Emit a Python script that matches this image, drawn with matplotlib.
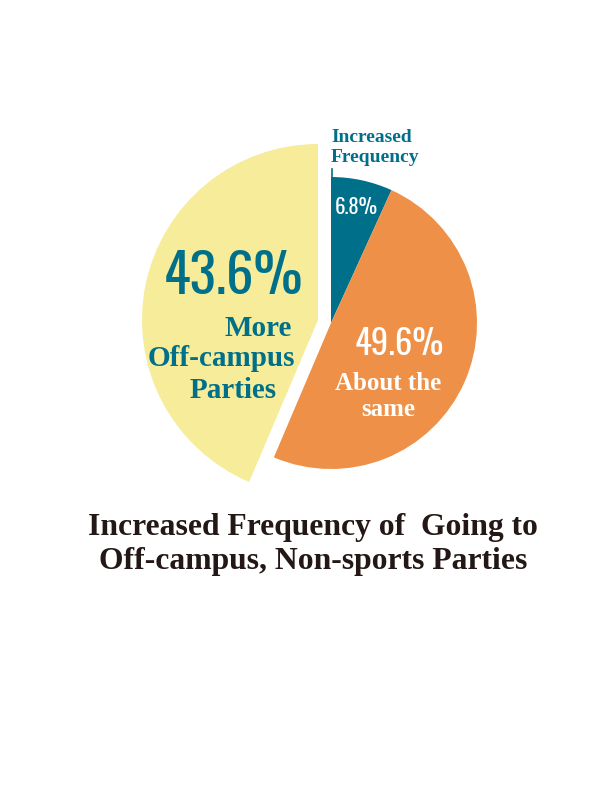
import matplotlib
matplotlib.use("Agg")
import matplotlib.pyplot as plt

# Data
labels = ["Increased\nFrequency", "About the\nsame", "More\nOff-campus\nParties"]
values = [6.8, 49.6, 43.6]
colors = ["#00708A", "#EE9047", "#F6EC9A"]
title = "Increased Frequency of  Going to\nOff-campus, Non-sports Parties"

TEAL = "#00708A"
DARK = "#231815"
SERIF = ["Liberation Serif", "DejaVu Serif"]
NARROW = ["Oswald", "Roboto Condensed", "DejaVu Sans"]

fig = plt.figure(figsize=(6.12, 7.92), dpi=100)
ax = fig.add_axes([0, 0, 1, 1])

# page coordinates: x 0..612, y 0..792 (y up)
cx, cy, r = 331, 792 - 323, 146
wedges, _ = ax.pie(values, colors=colors, startangle=90, counterclock=False,
                   radius=r, center=(cx, cy),
                   wedgeprops=dict(linewidth=0))
# the "more parties" slice is pulled out and drawn larger
wedges[2].set_center((318, 792 - 320))
wedges[2].set_radius(176)

ax.set_xlim(0, 612)
ax.set_ylim(0, 792)
ax.set_aspect("equal")
ax.axis("off")

# leader for the small slice
ax.plot([332, 332], [792 - 169, 792 - 180], color=TEAL, lw=1.2)
ax.text(331, 792 - 138, "Increased", ha="left", va="center", color=TEAL,
        family=SERIF, fontweight="bold", fontsize=14)
ax.text(331, 792 - 158, "Frequency", ha="left", va="center", color=TEAL,
        family=SERIF, fontweight="bold", fontsize=14)
ax.text(356, 792 - 207, f"{values[0]}%", ha="center", va="center", color="white",
        family=NARROW, fontsize=15)

# big yellow slice
ax.text(234, 792 - 277, f"{values[2]}%", ha="center", va="center", color=TEAL,
        family=NARROW, fontweight="medium", fontsize=39.5)
ax.text(292, 792 - 328, "More", ha="right", va="center", color=TEAL,
        family=SERIF, fontweight="bold", fontsize=21)
ax.text(221, 792 - 359, "Off-campus", ha="center", va="center", color=TEAL,
        family=SERIF, fontweight="bold", fontsize=21)
ax.text(233, 792 - 391, "Parties", ha="center", va="center", color=TEAL,
        family=SERIF, fontweight="bold", fontsize=21)

# orange slice
ax.text(399, 792 - 344, f"{values[1]}%", ha="center", va="center", color="white",
        family=NARROW, fontsize=25)
ax.text(388, 792 - 383, "About the", ha="center", va="center", color="white",
        family=SERIF, fontweight="bold", fontsize=18)
ax.text(388, 792 - 410, "same", ha="center", va="center", color="white",
        family=SERIF, fontweight="bold", fontsize=18)

# title
ax.text(313, 792 - 527, title.split("\n")[0], ha="center", va="center", color=DARK,
        family=SERIF, fontweight="bold", fontsize=22.8)
ax.text(313, 792 - 562, title.split("\n")[1], ha="center", va="center", color=DARK,
        family=SERIF, fontweight="bold", fontsize=22.8)

fig.savefig("out.png", dpi=100)
